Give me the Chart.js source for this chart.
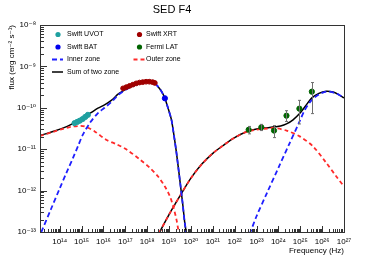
<!DOCTYPE html>
<html><head><meta charset="utf-8">
<script src="https://cdn.jsdelivr.net/npm/chart.js@4/dist/chart.umd.min.js"></script>
<style>html,body{margin:0;padding:0;background:#fff}#wrap{width:382px;height:259px;position:relative}</style>
</head><body><div id="wrap"><canvas id="c" width="382" height="259"></canvas></div>
<script>
// ---- text ----
const chartTitle = 'SED F4';
const xAxisTitle = 'Frequency (Hz)';
const yAxisTitle = 'flux (erg cm\u207B\u00B2 s\u207B\u00B9)';
// ---- axis ranges / tick labels (log10 exponents) ----
const xRangeExp = [13.1, 27];
const yRangeExp = [-13, -8];
const xTickExp = [14,15,16,17,18,19,20,21,22,23,24,25,26,27];
const yTickExp = [-13,-12,-11,-10,-9,-8];
// ---- observed data (log10 nu [Hz], log10 flux [erg cm^-2 s^-1]) ----
const uvotLogNu = [14.68,14.80,14.92,15.05,15.17,15.29];
const uvotLogF  = [-10.37,-10.34,-10.31,-10.27,-10.22,-10.17];
const xrtLogNu = [16.90,17.05,17.20,17.35,17.50,17.65,17.80,17.95,18.10,18.25,18.35];
const xrtLogF  = [-9.53,-9.50,-9.47,-9.44,-9.41,-9.39,-9.38,-9.37,-9.37,-9.38,-9.40];
const batLogNu = [18.81];
const batLogF  = [-9.77];
const latLogNu = [22.64,23.22,23.80,24.37,24.96,25.53];
const latLogF  = [-10.53,-10.47,-10.55,-10.19,-10.02,-9.61];
const latLogLo = [-10.63,-10.55,-10.72,-10.33,-10.39,-10.14];
const latLogHi = [-10.45,-10.40,-10.43,-10.07,-9.82,-9.39];
// ---- model curves ----
const innerLowLogNu = [13.16,13.6,14.0,14.3,14.61,14.85,15.06,15.4,15.75,16.05,16.36,16.7,17.04,17.35,17.67,17.97,18.2,18.35,18.5,18.65,18.81,18.95,19.11,19.22,19.34,19.49,19.62,19.72,19.80];
const innerLowLogF  = [-13.0,-12.45,-11.95,-11.58,-11.21,-10.91,-10.65,-10.35,-10.13,-10.0,-9.86,-9.68,-9.56,-9.47,-9.41,-9.37,-9.37,-9.41,-9.49,-9.6,-9.77,-10.0,-10.29,-10.65,-11.09,-11.73,-12.30,-12.78,-13.05];
const innerHighLogNu = [22.69,23.0,23.5,24.0,24.5,24.97,25.2,25.51,25.85,26.19,26.5,26.75,27.0];
const innerHighLogF  = [-13.05,-12.62,-12.03,-11.45,-10.87,-10.33,-10.06,-9.82,-9.68,-9.61,-9.63,-9.68,-9.76];
const outerLowLogNu = [13.1,13.77,14.2,14.53,14.85,15.14,15.6,16.12,16.6,17.06,17.67,18.12,18.5,18.81,19.04,19.19,19.34,19.42,19.46];
const outerLowLogF  = [-10.68,-10.57,-10.5,-10.46,-10.44,-10.45,-10.57,-10.77,-10.88,-11.01,-11.25,-11.45,-11.66,-11.90,-12.14,-12.38,-12.70,-12.94,-13.05];
const outerHighLogNu = [18.55,19.0,19.5,20.0,20.5,21.0,21.5,22.0,22.54,23.0,23.5,23.83,24.37,24.97,25.58,26.19,26.65,27.0];
const outerHighLogF  = [-13.02,-12.58,-12.13,-11.7,-11.36,-11.1,-10.9,-10.72,-10.58,-10.53,-10.5,-10.49,-10.55,-10.69,-10.93,-11.33,-11.66,-11.9];
const sumLowLogNu = [13.1,13.77,14.2,14.53,14.85,15.14,15.45,15.75,16.05,16.36,16.7,17.04,17.35,17.67,17.97,18.2,18.35,18.5,18.65,18.81,18.95,19.11,19.22,19.34,19.49,19.62,19.72,19.80];
const sumLowLogF  = [-10.67,-10.56,-10.48,-10.40,-10.31,-10.21,-10.11,-10.01,-9.93,-9.82,-9.66,-9.55,-9.47,-9.41,-9.37,-9.37,-9.41,-9.49,-9.6,-9.77,-10.0,-10.29,-10.65,-11.09,-11.73,-12.3,-12.78,-13.05];
const sumHighLogNu = [18.55,19.0,19.5,20.0,20.5,21.0,21.5,22.0,22.54,23.0,23.5,23.83,24.1,24.37,24.67,24.97,25.25,25.53,25.85,26.19,26.5,26.75,27.0];
const sumHighLogF  = [-13.02,-12.58,-12.13,-11.7,-11.36,-11.1,-10.9,-10.72,-10.58,-10.51,-10.48,-10.46,-10.44,-10.39,-10.29,-10.14,-9.95,-9.76,-9.65,-9.6,-9.62,-9.68,-9.76];

const P = e => Math.pow(10, e);
const pts = (lx, ly) => lx.map((v, i) => ({x: P(v), y: P(ly[i])}));
const SUP = {'0':'\u2070','1':'\u00B9','2':'\u00B2','3':'\u00B3','4':'\u2074','5':'\u2075','6':'\u2076','7':'\u2077','8':'\u2078','9':'\u2079','-':'\u207B'};
const sup = n => String(n).split('').map(c => SUP[c]).join('');

Chart.defaults.font.family = "'Liberation Sans', Arial, 'DejaVu Sans', sans-serif";
Chart.defaults.color = '#000';

const BLUE = '#1f1fff', RED = '#ff2a2a';

const datasets = [
  {label:'Swift UVOT', type:'scatter', data: pts(uvotLogNu, uvotLogF), backgroundColor:'#1fa0a0', borderColor:'#1fa0a0', pointRadius:2.6, order:0},
  {label:'Swift XRT', type:'scatter', data: pts(xrtLogNu, xrtLogF), backgroundColor:'#a00000', borderColor:'#a00000', pointRadius:2.4, order:0},
  {label:'Swift BAT', type:'scatter', data: pts(batLogNu, batLogF), backgroundColor:'#0000ee', borderColor:'#0000ee', pointRadius:2.6, order:0},
  {label:'Fermi LAT', type:'scatter', data: pts(latLogNu, latLogF), backgroundColor:'#006400', borderColor:'#006400', pointRadius:2.6, order:0},
  {label:'Inner zone', type:'line', data: pts(innerLowLogNu, innerLowLogF), borderColor:BLUE, borderWidth:1.8, borderDash:[5,3], pointRadius:0, tension:0.3, order:1},
  {label:'Outer zone', type:'line', data: pts(outerLowLogNu, outerLowLogF), borderColor:RED, borderWidth:1.8, borderDash:[4,3], pointRadius:0, tension:0.3, order:2},
  {label:'Sum of two zone', type:'line', data: pts(sumLowLogNu, sumLowLogF), borderColor:'#000', borderWidth:1.5, pointRadius:0, tension:0.3, order:3},
  {label:'Inner zone (IC)', type:'line', data: pts(innerHighLogNu, innerHighLogF), borderColor:BLUE, borderWidth:1.8, borderDash:[5,3], pointRadius:0, tension:0.3, order:1},
  {label:'Outer zone (IC)', type:'line', data: pts(outerHighLogNu, outerHighLogF), borderColor:RED, borderWidth:1.8, borderDash:[4,3], pointRadius:0, tension:0.3, order:2},
  {label:'Sum (IC)', type:'line', data: pts(sumHighLogNu, sumHighLogF), borderColor:'#000', borderWidth:1.5, pointRadius:0, tension:0.3, order:3}
];

function logTicks(range) {
  const out = [];
  const lo = Math.floor(range[0]), hi = Math.ceil(range[1]);
  for (let e = lo; e <= hi; e++) for (let k = 1; k <= 9; k++) {
    const v = k * Math.pow(10, e);
    if (v >= P(range[0]) * 0.9999 && v <= P(range[1]) * 1.0001) out.push({value: v});
  }
  return out;
}
const isPow = (v, list) => list.find(e => Math.abs(Math.log10(v) - e) < 1e-6);

const errorBars = {
  id: 'errorBars',
  afterDatasetsDraw(chart) {
    const {ctx, scales:{x, y}} = chart;
    ctx.save();
    ctx.strokeStyle = '#707070'; ctx.lineWidth = 1;
    latLogNu.forEach((v, i) => {
      const px = Math.round(x.getPixelForValue(P(v))) + 0.5;
      const y1 = y.getPixelForValue(P(latLogLo[i])), y2 = y.getPixelForValue(P(latLogHi[i]));
      ctx.beginPath();
      ctx.moveTo(px, y1); ctx.lineTo(px, y2);
      ctx.moveTo(px - 1.5, y1); ctx.lineTo(px + 1.5, y1);
      ctx.moveTo(px - 1.5, y2); ctx.lineTo(px + 1.5, y2);
      ctx.stroke();
    });
    ctx.restore();
  }
};
const frameTicks = {
  id: 'frameTicks',
  afterDraw(chart) {
    const {ctx, chartArea:a, scales:{x, y}} = chart;
    ctx.save();
    ctx.strokeStyle = '#333'; ctx.lineWidth = 1;
    ctx.beginPath();
    x.ticks.forEach(t => {
      const major = isPow(t.value, xTickExp) !== undefined;
      const px = Math.round(x.getPixelForValue(t.value)) + 0.5;
      if (px <= a.left + 1 || px >= a.right - 1) return;
      ctx.moveTo(px, a.bottom); ctx.lineTo(px, a.bottom - (major ? 6 : 3));
    });
    y.ticks.forEach(t => {
      const major = isPow(t.value, yTickExp) !== undefined;
      const py = Math.round(y.getPixelForValue(t.value)) + 0.5;
      if (py <= a.top + 1 || py >= a.bottom - 1) return;
      ctx.moveTo(a.left, py); ctx.lineTo(a.left + (major ? 7 : 4), py);
    });
    ctx.stroke();
    ctx.strokeRect(Math.round(a.left) + 0.5, Math.round(a.top) + 0.5, Math.round(a.right - a.left), Math.round(a.bottom - a.top));
    ctx.restore();
  }
};
const legendEntries = [
  {ds:0, col:0, row:0, kind:'point'}, {ds:1, col:1, row:0, kind:'point'},
  {ds:2, col:0, row:1, kind:'point'}, {ds:3, col:1, row:1, kind:'point'},
  {ds:4, col:0, row:2, kind:'line'},  {ds:5, col:1, row:2, kind:'line'},
  {ds:6, col:0, row:3, kind:'line'}
];
const boxLegend = {
  id: 'boxLegend',
  afterDraw(chart) {
    const {ctx, chartArea:a} = chart;
    ctx.save();
    ctx.font = "7px 'Liberation Sans', Arial, sans-serif";
    ctx.textBaseline = 'middle'; ctx.fillStyle = '#000';
    legendEntries.forEach(en => {
      const ds = chart.data.datasets[en.ds];
      const sx = a.left + (en.col ? 99 : 17.5);
      const tx = a.left + (en.col ? 106 : 27);
      const yy = a.top + 9.5 + en.row * 12.5;
      if (en.kind === 'point') {
        ctx.fillStyle = ds.backgroundColor;
        ctx.beginPath(); ctx.arc(sx + 0.5, yy, 2.6, 0, 2 * Math.PI); ctx.fill();
      } else {
        ctx.strokeStyle = ds.borderColor; ctx.lineWidth = ds.borderWidth;
        ctx.setLineDash(ds.borderDash || []);
        ctx.beginPath(); ctx.moveTo(sx - 5.5, yy); ctx.lineTo(sx + 5.5, yy); ctx.stroke();
        ctx.setLineDash([]);
      }
      ctx.fillStyle = '#000';
      ctx.fillText(ds.label, tx, yy);
    });
    ctx.restore();
  }
};

new Chart(document.getElementById('c'), {
  type: 'line',
  data: {datasets},
  options: {
    responsive: false, animation: false, devicePixelRatio: 1,
    layout: {padding: {left: 0, right: 38, top: 0, bottom: 0}},
    plugins: {
      legend: {display: false}, tooltip: {enabled: false},
      title: {display: true, text: chartTitle, font: {size: 11, weight: 'normal', lineHeight: 1.2}, color: '#000', padding: {top: 3, bottom: 8.8}}
    },
    scales: {
      x: {
        type: 'logarithmic', min: P(xRangeExp[0]), max: P(xRangeExp[1]),
        afterBuildTicks: s => { s.ticks = logTicks(xRangeExp); },
        afterFit: s => { s.height = 27; },
        grid: {display: false, drawTicks: false}, border: {display: false},
        ticks: {autoSkip: false, maxRotation: 0, minRotation: 0, padding: 5, font: {size: 8}, color: '#000',
          callback: v => { const e = isPow(v, xTickExp); return e !== undefined ? '10' + sup(e) : ''; }},
        title: {display: true, text: xAxisTitle, align: 'end', font: {size: 8}, color: '#000', padding: {top: 0, bottom: 3}}
      },
      y: {
        type: 'logarithmic', min: P(yRangeExp[0]), max: P(yRangeExp[1]),
        afterBuildTicks: s => { s.ticks = logTicks(yRangeExp); },
        afterFit: s => { s.width = 40; },
        grid: {display: false, drawTicks: false}, border: {display: false},
        ticks: {autoSkip: false, padding: 4, font: {size: 8}, color: '#000',
          callback: v => { const e = isPow(v, yTickExp); return e !== undefined ? '10' + sup(e) : ''; }},
        title: {display: true, text: yAxisTitle, align: 'end', font: {size: 8}, color: '#000', padding: {top: 7, bottom: 0}}
      }
    }
  },
  plugins: [errorBars, frameTicks, boxLegend]
});
</script>
</body></html>
